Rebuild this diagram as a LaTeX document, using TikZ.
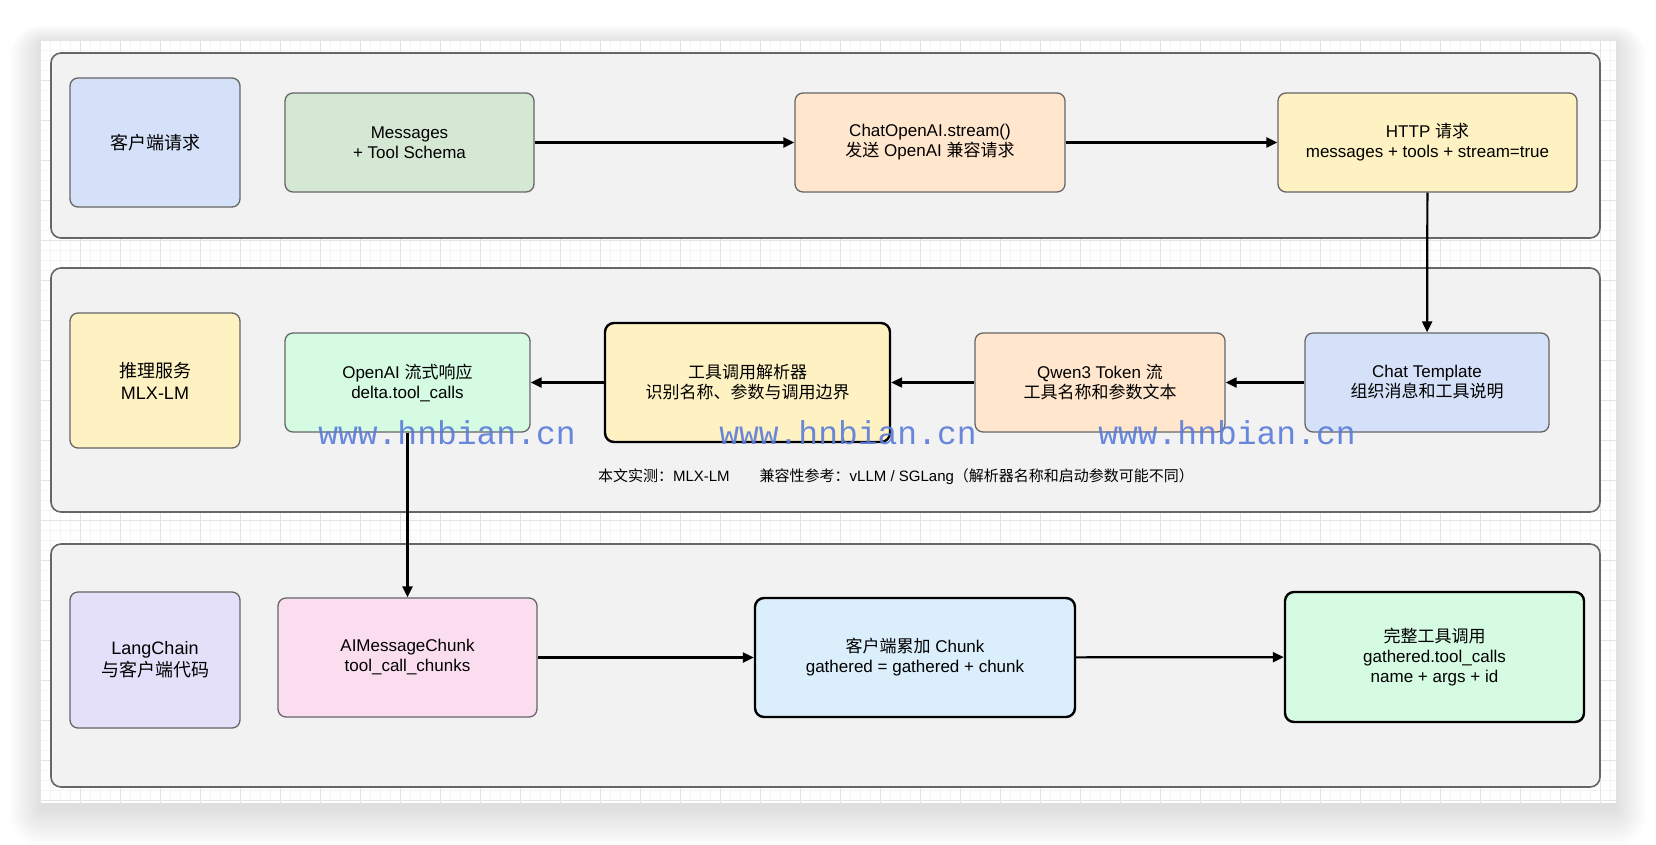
\documentclass[tikz,border=0pt]{standalone}
\usepackage{fontspec}
\setmainfont{Liberation Sans}
\newfontfamily\cjk{Noto Sans CJK SC}
\newfontfamily\markfont{Liberation Mono}
\usetikzlibrary{arrows.meta}
\definecolor{panel-bg}{HTML}{F2F2F2}
\definecolor{panel-line}{HTML}{666666}
\definecolor{grid-minor}{HTML}{F4F4F4}
\definecolor{grid-major}{HTML}{E3E3E3}
\definecolor{soft-blue}{HTML}{D4E1F8}
\definecolor{soft-green}{HTML}{D5E8D4}
\definecolor{soft-orange}{HTML}{FFE6CC}
\definecolor{soft-yellow}{HTML}{FFF2C2}
\definecolor{soft-mint}{HTML}{D5FBE2}
\definecolor{soft-lilac}{HTML}{E5E0FA}
\definecolor{soft-pink}{HTML}{FADEF0}
\definecolor{soft-sky}{HTML}{DAEEFC}
\definecolor{mark-blue}{HTML}{5A7CDA}

\begin{document}
\begin{tikzpicture}[x=1pt, y=-1pt,
        every node/.style={font=\fontsize{17}{20}\selectfont, align=center},
        box/.style={draw=panel-line, line width=1.3pt, rounded corners=8pt},
        keybox/.style={draw=black, line width=2.4pt, rounded corners=9pt},
        lanelabel/.style={box, minimum width=170pt, font=\fontsize{18}{22}\selectfont},
        flow/.style={-{Triangle[length=11pt, width=10pt]}, line width=2.2pt}]
      \useasboundingbox (0,0) rectangle (1656,844);
      % canvas with soft shadow and grid
      \foreach \s in {1,...,16}
        \fill[black, opacity=0.008, rounded corners=2*\s pt]
             (42-2*\s,44-1.2*\s) rectangle (1614+2*\s,808+2.4*\s);
      \fill[white] (40,40) rectangle (1616,803);
      \draw[grid-minor, line width=0.6pt, step=10pt] (40,40) grid (1616,803);
      \draw[grid-major, line width=0.8pt, step=40pt] (40,40) grid (1616,803);
      % swim lanes
      \draw[panel-line, fill=panel-bg, line width=1.6pt, rounded corners=10pt] (51,53) rectangle (1600,238);
      \draw[panel-line, fill=panel-bg, line width=1.6pt, rounded corners=10pt] (51,268) rectangle (1600,512);
      \draw[panel-line, fill=panel-bg, line width=1.6pt, rounded corners=10pt] (51,544) rectangle (1600,787);
      % lane 1
      \node[lanelabel, fill=soft-blue, minimum height=129pt]
            (client) at (155,142.5) {{\cjk 客户端请求}};
      \node[box, fill=soft-green, minimum width=249pt, minimum height=99pt]
            (msgs) at (409.5,142.5) {Messages\\+ Tool Schema};
      \node[box, fill=soft-orange, minimum width=270pt, minimum height=99pt]
            (stream) at (930,142.5) {ChatOpenAI.stream()\\{\cjk 发送} OpenAI {\cjk 兼容请求}};
      \node[box, fill=soft-yellow, minimum width=299pt, minimum height=99pt]
            (http) at (1427.5,142.5) {HTTP {\cjk 请求}\\messages + tools + stream=true};
      % lane 2
      \node[lanelabel, fill=soft-yellow, minimum height=135pt]
            (infer) at (155,380.5) {{\cjk 推理服务}\\MLX-LM};
      \node[box, fill=soft-mint, minimum width=245pt, minimum height=99pt]
            (oaresp) at (407.5,382.5) {OpenAI {\cjk 流式响应}\\delta.tool\_calls};
      \node[keybox, fill=soft-yellow, minimum width=285pt, minimum height=119pt]
            (parser) at (747.5,382.5) {{\cjk 工具调用解析器}\\{\cjk 识别名称、参数与调用边界}};
      \node[box, fill=soft-orange, minimum width=250pt, minimum height=99pt]
            (tokens) at (1100,382.5) {Qwen3 Token {\cjk 流}\\{\cjk 工具名称和参数文本}};
      \node[box, fill=soft-blue, minimum width=244pt, minimum height=99pt]
            (tmpl) at (1427,382.5) {Chat Template\\{\cjk 组织消息和工具说明}};
      \node[font=\fontsize{15}{18}\selectfont] (note) at (896,477)
            {{\cjk 本文实测：}MLX-LM\hspace{30pt}{\cjk 兼容性参考：}vLLM / SGLang{\cjk （解析器名称和启动参数可能不同）}};
      % lane 3
      \node[lanelabel, fill=soft-lilac, minimum height=136pt]
            (lc) at (155,660) {LangChain\\{\cjk 与客户端代码}};
      \node[box, fill=soft-pink, minimum width=259pt, minimum height=119pt]
            (chunk) at (407.5,657.5) {AIMessageChunk\\tool\_call\_chunks};
      \node[keybox, fill=soft-sky, minimum width=320pt, minimum height=119pt]
            (accum) at (915,657.5) {{\cjk 客户端累加} Chunk\\gathered = gathered + chunk};
      \node[keybox, fill=soft-mint, minimum width=299pt, minimum height=130pt]
            (full) at (1434.5,657) {{\cjk 完整工具调用}\\gathered.tool\_calls\\name + args + id};
      % connectors
      \draw[flow] (msgs) -- (stream);
      \draw[flow] (stream) -- (http);
      \draw[flow] (http) -- (tmpl);
      \draw[flow] (tmpl) -- (tokens);
      \draw[flow] (tokens) -- (parser);
      \draw[flow] (parser) -- (oaresp);
      \draw[flow] (oaresp) -- (chunk);
      \draw[flow] (chunk) -- (accum);
      \draw[flow] (accum) -- (full);
      % watermark
      \foreach \wx/\wn in {447/wmA, 848/wmB, 1227/wmC}
        \node[text=mark-blue, opacity=0.9, font=\markfont\fontsize{33}{33}\selectfont]
              (\wn) at (\wx,433) {www.hnbian.cn};
    \end{tikzpicture}
\end{document}
